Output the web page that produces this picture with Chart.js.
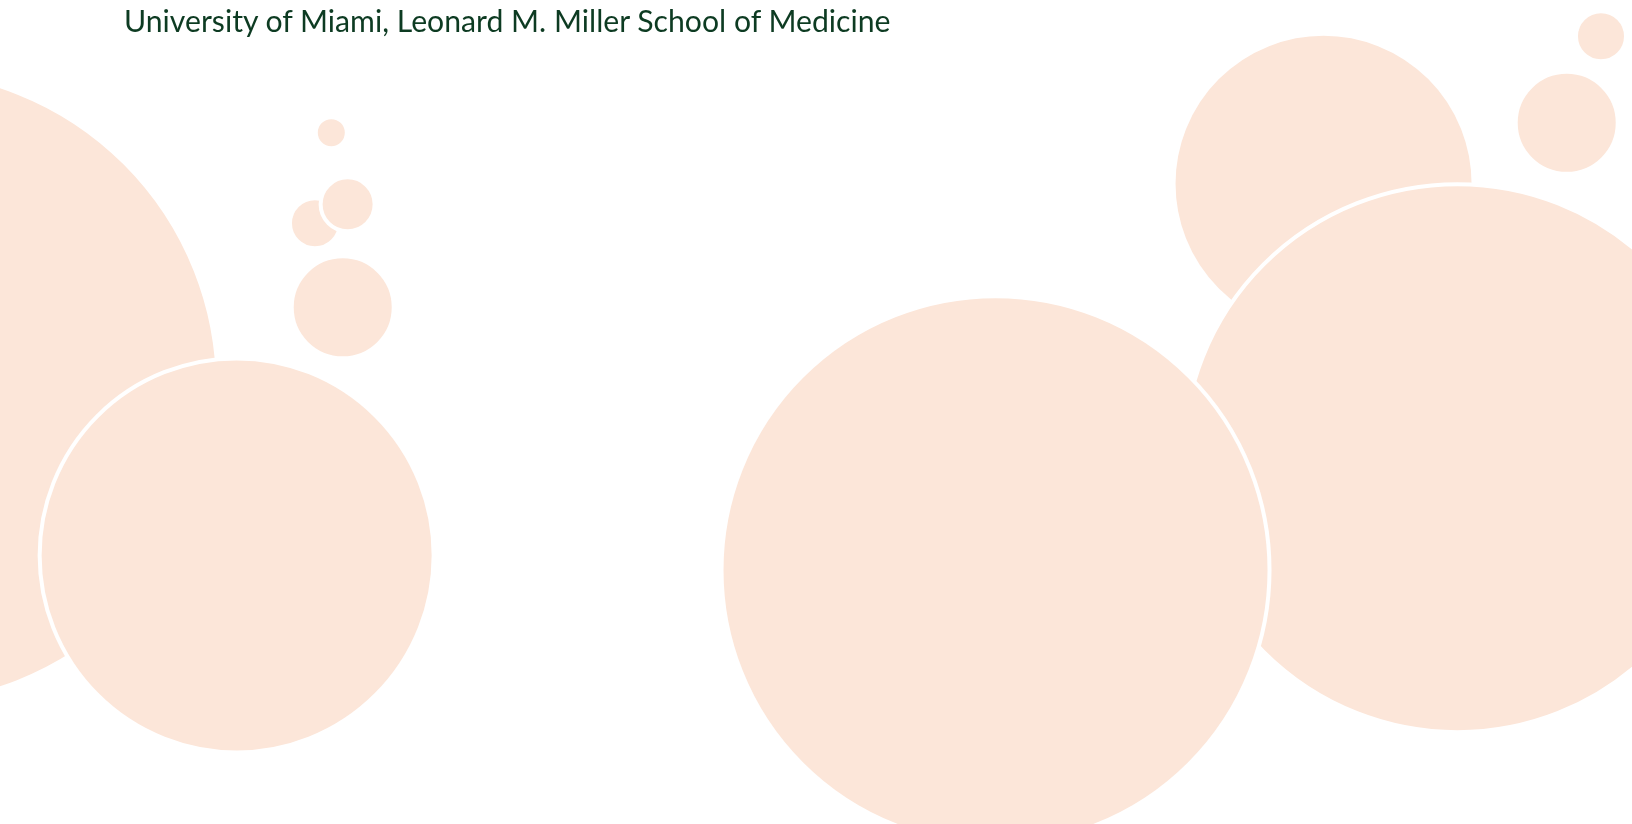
<!DOCTYPE html>
<html>
<head>
<meta charset="utf-8">
<script src="https://cdn.jsdelivr.net/npm/chart.js@4.4.0/dist/chart.umd.min.js"></script>
<style>
  html, body { margin: 0; padding: 0; background: #ffffff; overflow: hidden; }
  #wrap { position: relative; width: 1632px; height: 824px; }
  #chart { position: absolute; left: 0; top: 0; }
  #sub {
    position: absolute; left: 124px; top: 0px;
    font-family: "Lato", "Open Sans", sans-serif; font-size: 30.2px;
    color: #0d3b22; line-height: 40px; white-space: nowrap;
  }
</style>
</head>
<body>
<div id="wrap">
  <canvas id="chart" width="1632" height="824"></canvas>
  <div id="sub">University of Miami, Leonard M. Miller School of Medicine</div>
</div>
<script>
// Bubble data (x, y in chart units 0-100; r = radius in px), in drawing order
const bubbleX = [-6.07, 14.5, 20.3, 19.3, 21.3, 21.0, 96.0, 98.1, 81.1, 89.3, 61.0];
const bubbleY = [53.0, 32.6, 83.9, 72.9, 75.2, 62.7, 85.1, 95.6, 77.7, 44.4, 30.8];
const bubbleR = [317, 197, 15.5, 25, 27, 51, 51, 25, 150, 274, 274];

const points = bubbleX.map((x, i) => ({ x: x, y: bubbleY[i], r: bubbleR[i] }));

// let the bubbles spill over the edges instead of shrinking the plot area
Chart.BubbleController.prototype.getMaxOverflow = function () { return false; };

new Chart(document.getElementById('chart'), {
  type: 'bubble',
  data: {
    datasets: [{
      data: points,
      backgroundColor: '#fce6d9',
      borderColor: '#ffffff',
      borderWidth: 4,
      hoverBorderWidth: 4,
      clip: false
    }]
  },
  options: {
    responsive: false,
    animation: false,
    events: [],
    layout: { padding: 0 },
    plugins: { legend: { display: false }, tooltip: { enabled: false }, title: { display: false } },
    scales: {
      x: { type: 'linear', min: 0, max: 100, display: false },
      y: { type: 'linear', min: 0, max: 100, display: false }
    }
  }
});
</script>
</body>
</html>
